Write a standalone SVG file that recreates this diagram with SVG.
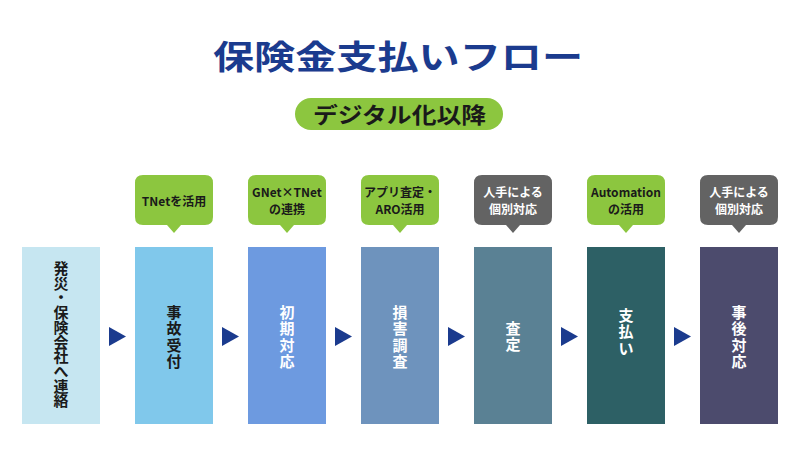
<svg xmlns="http://www.w3.org/2000/svg" width="800" height="450" viewBox="0 0 800 450">
<defs>
<style>
text{font-family:"Noto Sans CJK JP","Noto Sans",sans-serif;font-weight:700}
.title{font-size:33px;fill:#1b3b8e}
.sub{font-size:22px;fill:#1a1a1a}
.bt{font-size:15px;text-anchor:middle}
.dk{fill:#1a1a1a}
.wt{fill:#ffffff}
.ct{font-size:12px;text-anchor:middle}
.green{fill:#8cc63f}
.gray{fill:#636363}
.arrow{fill:#1b3b8e}
</style>
</defs>
<rect width="800" height="450" fill="#ffffff"/>
<g id="title">
<text class="title" x="213" y="69" textLength="370" lengthAdjust="spacingAndGlyphs">保険金支払いフロー</text>
</g>
<g id="subtitle">
<rect x="295" y="98" width="208" height="32" rx="16" class="green"/>
<text class="sub" x="313" y="123" textLength="173" lengthAdjust="spacingAndGlyphs">デジタル化以降</text>
</g>
<g id="node1">
<rect x="22" y="247" width="78" height="177" fill="#c6e6f1"/>
<text class="bt dk" x="61" y="274"><tspan x="61">発</tspan><tspan x="61" dy="14.7">災</tspan><tspan x="61" dy="14.7">・</tspan><tspan x="61" dy="14.7">保</tspan><tspan x="61" dy="14.7">険</tspan><tspan x="61" dy="14.7">会</tspan><tspan x="61" dy="14.7">社</tspan><tspan x="61" dy="14.7">へ</tspan><tspan x="61" dy="14.7">連</tspan><tspan x="61" dy="14.7">絡</tspan></text>
</g>
<g id="node2">
<rect x="135" y="247" width="78" height="177" fill="#80c8eb"/>
<text class="bt dk" x="174" y="318"><tspan x="174">事</tspan><tspan x="174" dy="16.3">故</tspan><tspan x="174" dy="16.3">受</tspan><tspan x="174" dy="16.3">付</tspan></text>
<path d="M143 175 H205 Q213 175 213 183 V217 Q213 225 205 225 H181 L174 233 L167 225 H143 Q135 225 135 217 V183 Q135 175 143 175 Z" class="green"/>
<text class="ct dk" x="174" y="206">TNetを活用</text>
</g>
<g id="node3">
<rect x="248" y="247" width="78" height="177" fill="#6d9ae0"/>
<text class="bt wt" x="287" y="318"><tspan x="287">初</tspan><tspan x="287" dy="16.3">期</tspan><tspan x="287" dy="16.3">対</tspan><tspan x="287" dy="16.3">応</tspan></text>
<path d="M256 175 H318 Q326 175 326 183 V217 Q326 225 318 225 H294 L287 233 L280 225 H256 Q248 225 248 217 V183 Q248 175 256 175 Z" class="green"/>
<text class="ct dk" x="287" y="197">GNet×TNet</text>
<text class="ct dk" x="287" y="214">の連携</text>
</g>
<g id="node4">
<rect x="361" y="247" width="78" height="177" fill="#6e93bd"/>
<text class="bt wt" x="400" y="318"><tspan x="400">損</tspan><tspan x="400" dy="16.3">害</tspan><tspan x="400" dy="16.3">調</tspan><tspan x="400" dy="16.3">査</tspan></text>
<path d="M369 175 H431 Q439 175 439 183 V217 Q439 225 431 225 H407 L400 233 L393 225 H369 Q361 225 361 217 V183 Q361 175 369 175 Z" class="green"/>
<text class="ct dk" x="400" y="197">アプリ査定・</text>
<text class="ct dk" x="400" y="214">ARO活用</text>
</g>
<g id="node5">
<rect x="474" y="247" width="78" height="177" fill="#5a8194"/>
<text class="bt wt" x="513" y="334"><tspan x="513">査</tspan><tspan x="513" dy="16.3">定</tspan></text>
<path d="M482 175 H544 Q552 175 552 183 V217 Q552 225 544 225 H520 L513 233 L506 225 H482 Q474 225 474 217 V183 Q474 175 482 175 Z" class="gray"/>
<text class="ct wt" x="513" y="197">人手による</text>
<text class="ct wt" x="513" y="214">個別対応</text>
</g>
<g id="node6">
<rect x="587" y="247" width="78" height="177" fill="#2d6065"/>
<text class="bt wt" x="626" y="321"><tspan x="626">支</tspan><tspan x="626" dy="16.3">払</tspan><tspan x="626" dy="16.3">い</tspan></text>
<path d="M595 175 H657 Q665 175 665 183 V217 Q665 225 657 225 H633 L626 233 L619 225 H595 Q587 225 587 217 V183 Q587 175 595 175 Z" class="green"/>
<text class="ct dk" x="626" y="197">Automation</text>
<text class="ct dk" x="626" y="214">の活用</text>
</g>
<g id="node7">
<rect x="700" y="247" width="78" height="177" fill="#4c4b6d"/>
<text class="bt wt" x="739" y="318"><tspan x="739">事</tspan><tspan x="739" dy="16.3">後</tspan><tspan x="739" dy="16.3">対</tspan><tspan x="739" dy="16.3">応</tspan></text>
<path d="M708 175 H770 Q778 175 778 183 V217 Q778 225 770 225 H746 L739 233 L732 225 H708 Q700 225 700 217 V183 Q700 175 708 175 Z" class="gray"/>
<text class="ct wt" x="739" y="197">人手による</text>
<text class="ct wt" x="739" y="214">個別対応</text>
</g>
<g id="connectors">
<polygon class="arrow" points="109,327 126,336.5 109,346"/>
<polygon class="arrow" points="222,327 239,336.5 222,346"/>
<polygon class="arrow" points="335,327 352,336.5 335,346"/>
<polygon class="arrow" points="448,327 465,336.5 448,346"/>
<polygon class="arrow" points="561,327 578,336.5 561,346"/>
<polygon class="arrow" points="674,327 691,336.5 674,346"/>
</g>
</svg>
